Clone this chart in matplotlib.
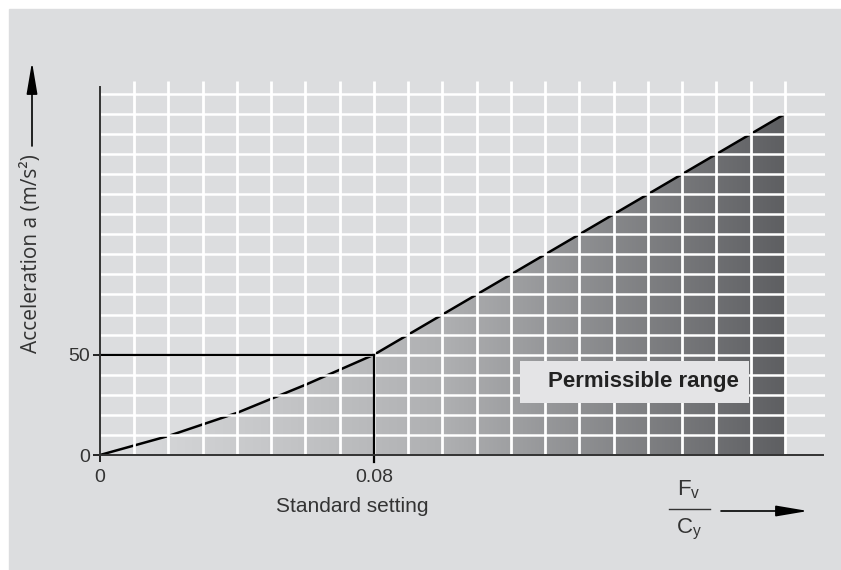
import matplotlib.pyplot as plt
from matplotlib.colors import LinearSegmentedColormap
from matplotlib.patches import Polygon, Rectangle
import numpy as np

W, H = 841, 570

# curve
ratio = [0, 0.02, 0.04, 0.06, 0.08, 0.10, 0.12, 0.14, 0.16, 0.18, 0.20]
accel = [0, 9.5, 21, 35, 50, 70, 90, 110, 130, 150, 170]
std_x, std_y = 0.08, 50
xticks = [0, 0.08]
xticklabels = ["0", "0.08"]
yticks = [0, 50]
yticklabels = ["0", "50"]

narrow = ["Liberation Sans Narrow", "Liberation Sans", "DejaVu Sans"]
plain = ["Open Sans", "DejaVu Sans"]
bg = "#dcdddf"


def fx(px):
    return px / W


def fy(py):
    return 1 - py / H


fig = plt.figure(figsize=(W / 100, H / 100), dpi=100)
fig.patches.append(Rectangle((fx(9), 0), 1, fy(9), transform=fig.transFigure,
                             color=bg, zorder=-10))

ax = fig.add_axes([fx(100), 115 / H, (825 - 100) / W, (455 - 81) / H])
ax.set_facecolor(bg)
xmax, ymax = 0.2117, 186.4

# gradient fill under the curve
cmap = LinearSegmentedColormap.from_list("g", ["#dcdddf", "#afb0b2", "#5e5f62"], N=256)
grad = np.linspace(0, 1, 256).reshape(1, -1)
img = ax.imshow(grad, cmap=cmap, extent=(0, ratio[-1], 0, accel[-1]),
                aspect="auto", origin="lower", zorder=1)
poly = Polygon(list(zip(ratio, accel)) + [(ratio[-1], 0), (0, 0)],
               closed=True, facecolor="none", edgecolor="none")
ax.add_patch(poly)
img.set_clip_path(poly)
ax.set_xlim(0, xmax)
ax.set_ylim(0, ymax)

ax.plot(ratio, accel, color="black", lw=1.8, zorder=2)

# white grid on top of fill
ax.vlines(np.arange(1, 21) * 0.01, 0, ymax, color="white", lw=2.0, zorder=3)
ax.hlines(np.arange(10, 190, 10), 0, xmax, color="white", lw=1.8, zorder=3)

ax.plot([0, std_x], [std_y, std_y], color="black", lw=1.6, zorder=4, clip_on=False)
ax.plot([std_x, std_x], [-3.5, std_y], color="black", lw=1.6, zorder=4, clip_on=False)

for s in ["top", "right"]:
    ax.spines[s].set_visible(False)
ax.spines["left"].set_bounds(0, 183.5)
ax.spines["bottom"].set_bounds(0, 0.2111)
for s in ["left", "bottom"]:
    ax.spines[s].set_color("#333333")
    ax.spines[s].set_linewidth(1.4)
    ax.spines[s].set_zorder(5)

ax.set_xticks(xticks)
ax.set_xticklabels(xticklabels, fontfamily=narrow, fontsize=14, color="#333333")
ax.set_yticks(yticks)
ax.set_yticklabels(yticklabels, fontfamily=narrow, fontsize=14, color="#333333")
ax.tick_params(length=5, width=1.4, color="#222222", pad=2)
ax.tick_params(axis="x", pad=5)

# permissible range label box
ax.add_patch(Rectangle((0.1226, 25.9), 0.0669, 21.0, facecolor="#e4e4e6",
                       edgecolor="none", zorder=6))
fig.text(fx(643), fy(382), "Permissible range", ha="center", va="center",
         fontsize=16, fontweight="bold", fontfamily=narrow, color="#222222")

fig.text(fx(32), fy(254), "Acceleration a (m/s²)", rotation=90, ha="center",
         va="center", fontsize=15, fontfamily=plain, color="#333333")
fig.text(fx(352), fy(507), "Standard setting", ha="center", va="center",
         fontsize=15, fontfamily=narrow, color="#333333")

arrow = dict(arrowstyle="-|>,head_length=1.3,head_width=0.22", color="black",
             lw=1.2, mutation_scale=15, shrinkA=0, shrinkB=0)
ax.annotate("", xy=(fx(32), fy(62)), xytext=(fx(32), fy(146)),
            xycoords="figure fraction", arrowprops=arrow, annotation_clip=False)
ax.annotate("", xy=(fx(808), fy(511)), xytext=(fx(721), fy(511)),
            xycoords="figure fraction", arrowprops=arrow, annotation_clip=False)

# F_v / C_y fraction
fig.text(fx(689), fy(490), r"F$_\mathregular{v}$", ha="center", va="center",
         fontsize=16, fontfamily=narrow, color="#333333")
fig.text(fx(689), fy(529), r"C$_\mathregular{y}$", ha="center", va="center",
         fontsize=16, fontfamily=narrow, color="#333333")
fig.add_artist(plt.Line2D([fx(669), fx(710)], [fy(509), fy(509)],
                          transform=fig.transFigure, color="#333333", lw=1.0))

fig.savefig("out.png", dpi=100)
